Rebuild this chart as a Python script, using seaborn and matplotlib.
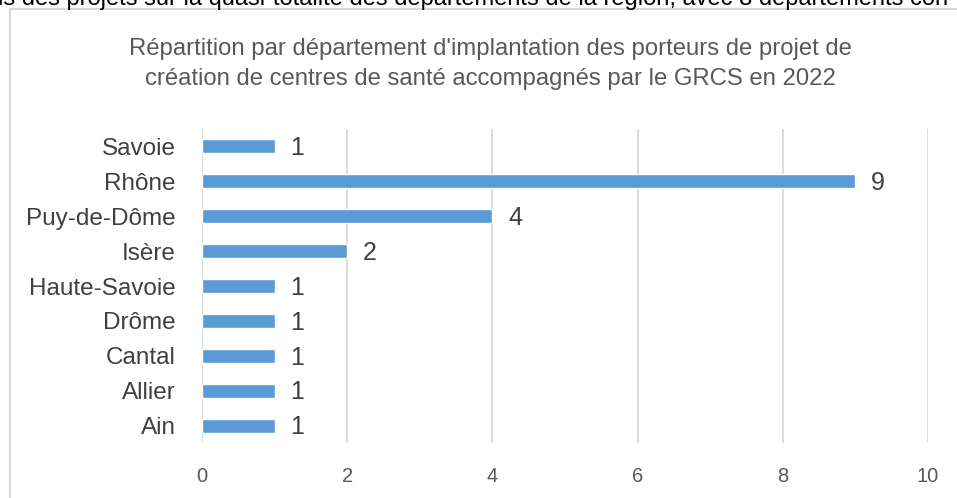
import matplotlib
matplotlib.use("Agg")
import matplotlib.pyplot as plt
import seaborn as sns
import pandas as pd
from matplotlib.patches import Rectangle

# Data
departements = ['Savoie', 'Rhône', 'Puy-de-Dôme', 'Isère', 'Haute-Savoie',
                'Drôme', 'Cantal', 'Allier', 'Ain']
porteurs = [1, 9, 4, 2, 1, 1, 1, 1, 1]
x_ticks = [0, 2, 4, 6, 8, 10]

title = ("Répartition par département d'implantation des porteurs de projet de\n"
         "création de centres de santé accompagnés par le GRCS en 2022")
header = ("is des projets sur la quasi-totalité des départements de la région, "
          "avec 8 départements con")

df = pd.DataFrame({'departement': departements, 'porteurs': porteurs})

sns.set_style('white')
plt.rcParams['font.family'] = ['Liberation Sans', 'DejaVu Sans']

W, H = 957, 498
fig = plt.figure(figsize=(W / 100, H / 100), dpi=100)
ax = fig.add_axes([202 / W, 1 - 443 / H, (928 - 202) / W, (443 - 129) / H])

sns.barplot(data=df, x='porteurs', y='departement', color='#5B9BD5',
            width=0.4, saturation=1, ax=ax)

ax.set_xlim(0, 10)
ax.set_xticks(x_ticks)
ax.set_xlabel('')
ax.set_ylabel('')
ax.grid(axis='x', color='#D9D9D9', linewidth=1.3)
ax.set_axisbelow(True)
for s in ax.spines.values():
    s.set_visible(False)
ax.tick_params(axis='x', length=0, pad=17, labelsize=14.5, labelcolor='#595959')
ax.tick_params(axis='y', length=0, pad=19, labelsize=17.5, labelcolor='#404040')

for i, v in enumerate(porteurs):
    ax.text(v + 0.22, i + 0.05, str(v), va='center', ha='left', fontsize=18,
            color='#404040')

# chart frame
fig.patches.append(Rectangle((10 / W, -0.1), 1.1, 1 - 9 / H + 0.1,
                             transform=fig.transFigure, fill=False,
                             edgecolor='#D9D9D9', linewidth=1.5))

fig.text(490 / W, 1 - 64 / H, title, ha='center', va='center', fontsize=17.2,
         color='#595959', linespacing=1.5)
fig.text(-0.002, 1 - 5 / H, header, ha='left', va='baseline', fontsize=17,
         color='black')

fig.savefig('out.png', dpi=100)
